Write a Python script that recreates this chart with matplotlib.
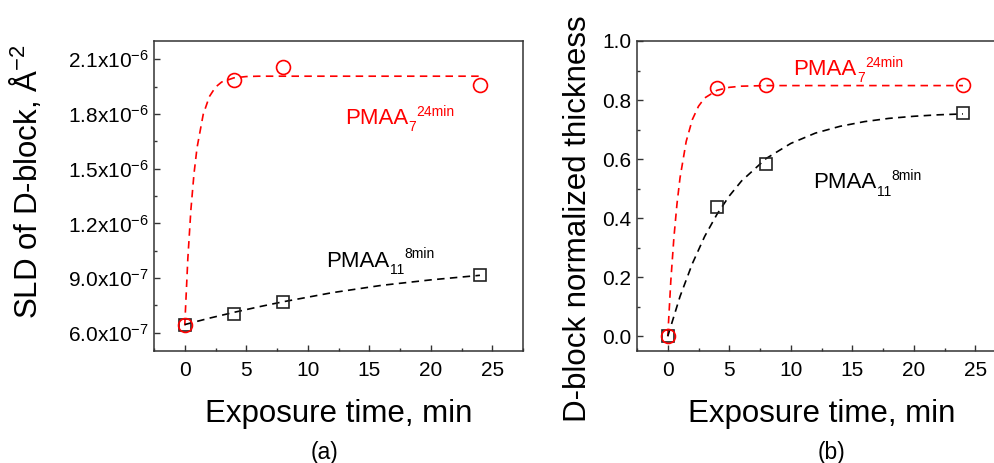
import matplotlib
matplotlib.use("Agg")
import matplotlib.pyplot as plt
from matplotlib.ticker import MultipleLocator, FixedLocator, FormatStrFormatter

plt.rcParams['font.family'] = ['Liberation Sans', 'DejaVu Sans']
plt.rcParams['mathtext.fontset'] = 'custom'
plt.rcParams['mathtext.rm'] = 'Liberation Sans'
plt.rcParams['mathtext.it'] = 'Liberation Sans:italic'

# measured points
t_meas = [0, 4, 8, 24]
sld_pmaa7 = [6.44e-7, 1.985e-6, 2.055e-6, 1.957e-6]
sld_pmaa11 = [6.44e-7, 7.04e-7, 7.70e-7, 9.18e-7]
thk_pmaa7 = [0.0, 0.840, 0.851, 0.851]
thk_pmaa11 = [0.0, 0.437, 0.584, 0.757]

# dashed fit curves
t_fit_fast = [0, 0.25, 0.5, 0.75, 1, 1.5, 2, 2.5, 3, 4, 5, 6, 8, 12, 16, 20, 24]
sld_fit7 = [6.4e-7, 1.006e-6, 1.275e-6, 1.471e-6, 1.615e-6, 1.797e-6, 1.895e-6,
            1.947e-6, 1.975e-6, 1.998e-6, 2.005e-6, 2.007e-6, 2.007e-6,
            2.007e-6, 2.007e-6, 2.007e-6, 2.007e-6]
thk_fit7 = [0.0, 0.188, 0.334, 0.448, 0.537, 0.660, 0.734, 0.779, 0.807,
            0.833, 0.843, 0.847, 0.849, 0.849, 0.849, 0.849, 0.849]

t_fit_slow = [0, 2, 4, 6, 8, 12, 16, 20, 24]
sld_fit11 = [6.45e-7, 6.8e-7, 7.12e-7, 7.42e-7, 7.7e-7, 8.2e-7, 8.6e-7, 8.9e-7, 9.15e-7]

t_fit_b = [0, 1, 2, 3, 4, 5, 6, 8, 10, 12, 14, 16, 18, 20, 22, 24]
thk_fit11 = [0.0, 0.135, 0.246, 0.338, 0.413, 0.475, 0.526, 0.602, 0.653,
             0.688, 0.711, 0.727, 0.738, 0.745, 0.750, 0.753]

sld_ticks = [6e-7, 9e-7, 1.2e-6, 1.5e-6, 1.8e-6, 2.1e-6]
sld_ticklabels = [r'6.0x10$^{\mathregular{-7}}$', r'9.0x10$^{\mathregular{-7}}$',
                  r'1.2x10$^{\mathregular{-6}}$', r'1.5x10$^{\mathregular{-6}}$',
                  r'1.8x10$^{\mathregular{-6}}$', r'2.1x10$^{\mathregular{-6}}$']

RED = '#ff0000'
BLK = '#000000'
W, H = 995, 463

fig = plt.figure(figsize=(9.95, 4.63), dpi=100)
ax1 = fig.add_axes([154 / W, (H - 351) / H, 369 / W, 310 / H])
ax2 = fig.add_axes([637 / W, (H - 351) / H, 369 / W, 310 / H])


def style(ax):
    for s in ax.spines.values():
        s.set_linewidth(1.1)
        s.set_color('#333333')
    ax.tick_params(which='both', direction='in', top=False, right=False,
                   labelsize=15, color='#333333')
    ax.tick_params(which='major', length=4.5, width=1.0)
    ax.tick_params(which='minor', length=2.5, width=1.0)
    ax.tick_params(axis='x', pad=7)
    ax.tick_params(axis='y', pad=4)
    ax.set_xlim(-2.5, 27.5)
    ax.xaxis.set_major_locator(MultipleLocator(5))
    ax.xaxis.set_minor_locator(MultipleLocator(2.5))
    ax.set_xlabel('Exposure time, min', fontsize=22.5)
    ax.xaxis.set_label_coords(0.5, -0.155)


def dashed(ax, x, y, c):
    ln, = ax.plot(x, y, color=c, lw=1.2)
    ln.set_dashes((4.5, 3.2))


def label(ax, x, y, sub, sup, c):
    main = ax.text(x, y, 'PMAA', color=c, fontsize=16, va='baseline')
    s1 = ax.annotate(sub, xy=(1, 0), xycoords=main, xytext=(0.3, -1.8),
                     textcoords='offset points', color=c, fontsize=10,
                     va='baseline')
    ax.annotate(sup, xy=(1, 0), xycoords=s1, xytext=(0.3, 13.5),
                textcoords='offset points', color=c, fontsize=10,
                va='baseline')


# panel (a)
dashed(ax1, t_fit_fast, sld_fit7, RED)
dashed(ax1, t_fit_slow, sld_fit11, BLK)
ax1.plot(t_meas, sld_pmaa11, 's', mfc='none', mec='#222222', ms=9, mew=1.2)
ax1.plot(t_meas, sld_pmaa7, 'o', mfc='none', mec=RED, ms=10, mew=1.2)
style(ax1)
ax1.set_ylim(5e-7, 2.2e-6)
ax1.yaxis.set_major_locator(FixedLocator(sld_ticks))
ax1.set_yticklabels(sld_ticklabels)
ax1.yaxis.set_minor_locator(MultipleLocator(1.5e-7))
ax1.set_ylabel(r'SLD of D-block, Å$^{\mathregular{-2}}$', fontsize=22.5)
ax1.yaxis.set_label_coords(-0.298, 0.545)
label(ax1, 13.0, 1.745e-6, '7', '24min', RED)
label(ax1, 11.5, 0.963e-6, '11', '8min', BLK)

# panel (b)
dashed(ax2, t_fit_fast, thk_fit7, RED)
dashed(ax2, t_fit_b, thk_fit11, BLK)
ax2.plot(t_meas, thk_pmaa11, 's', mfc='none', mec='#222222', ms=9, mew=1.2)
ax2.plot(t_meas, thk_pmaa7, 'o', mfc='none', mec=RED, ms=10, mew=1.2)
style(ax2)
ax2.set_ylim(-0.05, 1.0)
ax2.yaxis.set_major_locator(MultipleLocator(0.2))
ax2.yaxis.set_minor_locator(MultipleLocator(0.1))
ax2.yaxis.set_major_formatter(FormatStrFormatter('%.1f'))
ax2.set_ylabel('D-block normalized thickness', fontsize=22.5)
ax2.yaxis.set_label_coords(-0.119, 0.426)
label(ax2, 10.2, 0.885, '7', '24min', RED)
label(ax2, 11.84, 0.502, '11', '8min', BLK)

fig.text(325 / W, 1 - 452 / H, '(a)', fontsize=16.5, ha='center', va='center')
fig.text(832 / W, 1 - 452 / H, '(b)', fontsize=16.5, ha='center', va='center')

fig.savefig('out.png', dpi=100)
